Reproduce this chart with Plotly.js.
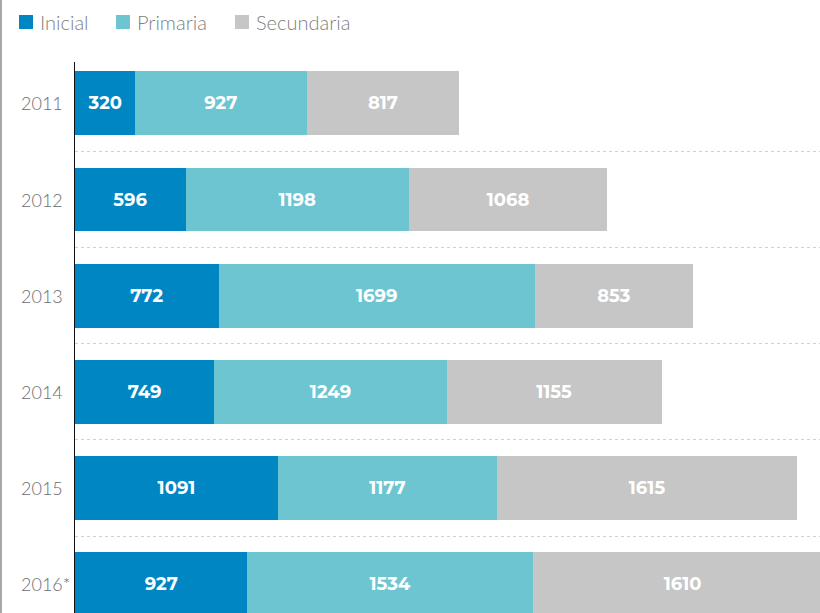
<!DOCTYPE html>
<html>
<head>
<meta charset="utf-8">
<script src="https://cdn.plot.ly/plotly-3.0.1.min.js"></script>
<style>html,body{margin:0;padding:0;background:#fff;}#chart{width:820px;height:613px;}</style>
</head>
<body>
<div id="chart"></div>
<script>
var years = ["2011", "2012", "2013", "2014", "2015", "2016*"];
var inicial = [320, 596, 772, 749, 1091, 927];
var primaria = [927, 1198, 1699, 1249, 1177, 1534];
var secundaria = [817, 1068, 853, 1155, 1615, 1610];
var seriesNames = ["Inicial", "Primaria", "Secundaria"];
var seriesColors = ["#0086c3", "#6cc5d0", "#c6c6c6"];
var seriesValues = [inicial, primaria, secundaria];

var W = 820, H = 613, ML = 75, MT = 62;
var plotW = W - ML, plotH = H - MT;
function px2x(p) { return (p - ML) / plotW; }
function px2y(p) { return 1 - (p - MT) / plotH; }

var traces = seriesValues.map(function (vals, i) {
  return {
    type: "bar",
    orientation: "h",
    name: seriesNames[i],
    y: years,
    x: vals,
    text: vals.map(String),
    textposition: "inside",
    insidetextanchor: "middle",
    constraintext: "none",
    textfont: {family: "Montserrat, 'Open Sans', sans-serif", size: 18, color: "#ffffff", weight: 700},
    marker: {color: seriesColors[i], line: {width: 0}},
    hoverinfo: "skip"
  };
});

// manual legend (square + label) built from series names/colours
var legendSquareX = [19, 116, 235];
var shapes = [
  {type: "line", xref: "paper", yref: "paper", x0: px2x(1), x1: px2x(1), y0: -0.2, y1: 1.4, line: {color: "#a8a8a8", width: 2}}
];
var annotations = [];
seriesNames.forEach(function (n, i) {
  shapes.push({type: "rect", xref: "paper", yref: "paper",
    x0: px2x(legendSquareX[i]), x1: px2x(legendSquareX[i] + 14),
    y0: px2y(29), y1: px2y(15),
    fillcolor: seriesColors[i], line: {width: 0}});
  annotations.push({xref: "paper", yref: "paper", x: px2x(legendSquareX[i] + 19), y: px2y(22),
    xanchor: "left", yanchor: "middle", showarrow: false, text: n,
    font: {family: "Lato, sans-serif", size: 20, color: "#808080", weight: 300}});
});
// left-aligned category labels (y given as category index)
years.forEach(function (yv, i) {
  annotations.push({xref: "paper", yref: "y", x: px2x(19), y: i,
    xanchor: "left", yanchor: "middle", showarrow: false, text: yv,
    font: {family: "Lato, sans-serif", size: 18, color: "#6d6d6d", weight: 300}});
});

var layout = {
  width: W,
  height: H,
  margin: {l: ML, r: 0, t: MT, b: 0, pad: 0},
  paper_bgcolor: "#ffffff",
  plot_bgcolor: "#ffffff",
  barmode: "stack",
  bargap: 0.336,
  showlegend: false,
  xaxis: {
    range: [0, 4005],
    automargin: false,
    showgrid: false,
    zeroline: false,
    showline: false,
    showticklabels: false,
    ticks: ""
  },
  yaxis: {
    type: "category",
    range: [5.3, -0.43],
    automargin: false,
    tickson: "boundaries",
    showgrid: true,
    gridcolor: "#d2d2d2",
    gridwidth: 1,
    griddash: "3px,3px",
    showline: true,
    linecolor: "#111111",
    linewidth: 1.5,
    ticks: "",
    showticklabels: false,
    zeroline: false
  },
  shapes: shapes,
  annotations: annotations
};

Plotly.newPlot("chart", traces, layout, {displayModeBar: false, staticPlot: true});
</script>
</body>
</html>
